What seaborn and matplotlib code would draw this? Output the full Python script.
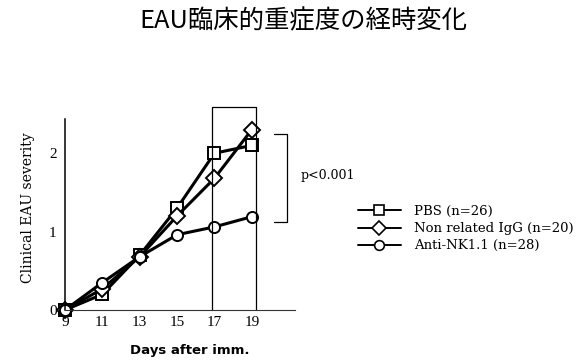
import matplotlib
matplotlib.use("Agg")
import matplotlib.pyplot as plt
import seaborn as sns
import pandas as pd

days = [9, 11, 13, 15, 17, 19]
pbs = [0.0, 0.20, 0.70, 1.30, 2.00, 2.10]
igg = [0.0, 0.27, 0.68, 1.20, 1.68, 2.30]
anti_nk = [0.0, 0.35, 0.68, 0.96, 1.06, 1.19]
series_names = ["PBS (n=26)", "Non related IgG (n=20)", "Anti-NK1.1 (n=28)"]
series_markers = ["s", "D", "o"]
x_ticks = [9, 11, 13, 15, 17, 19]
y_ticks = [0, 1, 2]

sns.set_style("white")
plt.rcParams["font.family"] = ["Liberation Serif", "DejaVu Sans"]
plt.rcParams.update({"text.color": "black", "axes.labelcolor": "black",
                     "xtick.color": "black", "ytick.color": "black"})
serif_wide = ["DejaVu Serif"]

df = pd.DataFrame({
    "day": days * 3,
    "severity": pbs + igg + anti_nk,
    "group": [series_names[0]] * 6 + [series_names[1]] * 6 + [series_names[2]] * 6,
})

fig = plt.figure(figsize=(5.86, 3.6), dpi=100)
ax = fig.add_axes([0.111, 0.139, 0.392, 0.566])

sns.lineplot(data=df, x="day", y="severity", hue="group", style="group",
             hue_order=series_names, style_order=series_names,
             palette=["black"] * 3, markers=series_markers, dashes=False,
             markersize=8, markerfacecolor="white", markeredgecolor="black",
             markeredgewidth=1.4, linewidth=2.2, ax=ax, legend=False,
             clip_on=False)

ax.set_xlim(9, 21.3)
ax.set_ylim(0, 2.6)
ax.set_xticks(x_ticks)
ax.set_yticks(y_ticks)
ax.tick_params(axis="both", labelsize=11, length=3, width=0.8, pad=3)
ax.tick_params(axis="x", length=0, pad=4)
for s in ["top", "right"]:
    ax.spines[s].set_visible(False)
ax.spines["left"].set_bounds(0, 2.44)
ax.spines["left"].set_linewidth(1.1)
ax.spines["left"].set_color("black")
ax.spines["bottom"].set_linewidth(0.8)
ax.spines["bottom"].set_color("#333333")

ax.set_ylabel("Clinical EAU severity", fontsize=10, family=serif_wide,
              labelpad=10)
ax.set_xlabel("Days after imm.", fontsize=9.5, fontweight="bold",
              family=["DejaVu Sans"], labelpad=12)
ax.xaxis.set_label_coords(0.543, -0.165)

# highlighted interval
ax.plot([16.85, 16.85, 19.25, 19.25], [0, 2.59, 2.59, 0], color="black",
        lw=0.9, clip_on=False)
# significance bracket
ax.plot([20.2, 20.87, 20.87, 20.2], [2.25, 2.25, 1.12, 1.12], color="black",
        lw=0.9, clip_on=False)
ax.text(21.6, 1.72, "p<0.001", fontsize=9, family=serif_wide,
        va="center", ha="left")

handles = [plt.Line2D([], [], color="black", lw=1.4, marker=m, markersize=7,
                      markerfacecolor="white", markeredgewidth=1.2)
           for m in series_markers]
fig.legend(handles, series_names, loc="upper left",
           bbox_to_anchor=(0.599, 0.449), frameon=False,
           prop={"family": serif_wide, "size": 9.5},
           handlelength=3.3, handletextpad=1.0, labelspacing=0.32,
           borderpad=0)

fig.text(0.517, 0.942, "EAU臨床的重症度の経時変化", fontsize=18.3,
         ha="center", va="center",
         family=["Noto Sans CJK JP", "DejaVu Sans"])

fig.savefig("out.png", dpi=100, facecolor="white")
